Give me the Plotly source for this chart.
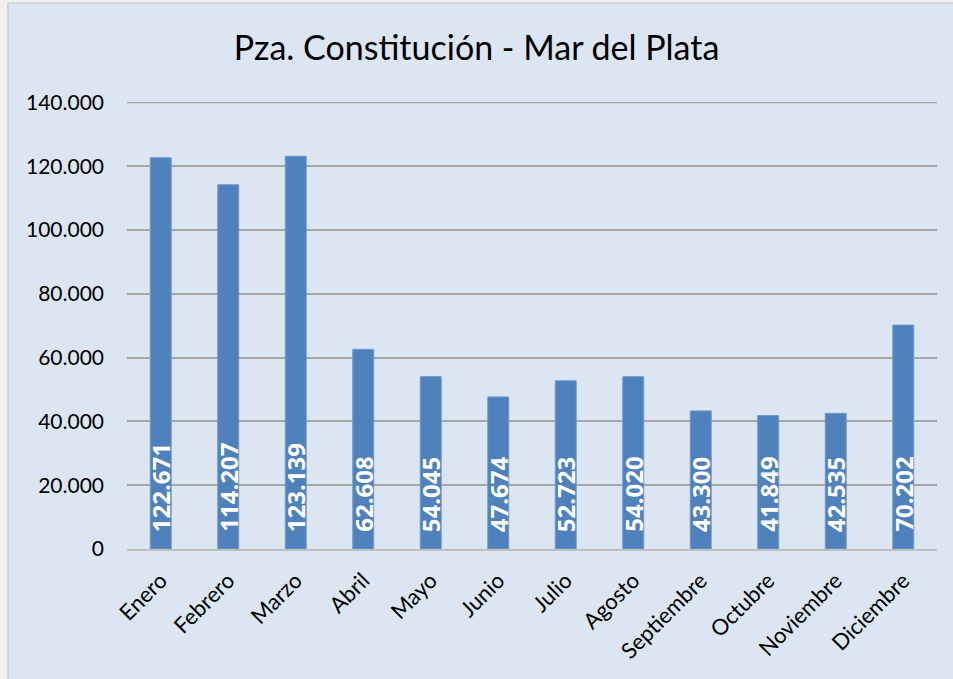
import plotly.graph_objects as go

months = ["Enero", "Febrero", "Marzo", "Abril", "Mayo", "Junio", "Julio",
          "Agosto", "Septiembre", "Octubre", "Noviembre", "Diciembre"]
values = [122671, 114207, 123139, 62608, 54045, 47674, 52723,
          54020, 43300, 41849, 42535, 70202]
y_ticks = [0, 20000, 40000, 60000, 80000, 100000, 120000, 140000]
title = "Pza. Constitución - Mar del Plata"

fig = go.Figure()
fig.add_trace(go.Bar(
    x=months, y=values, width=0.31,
    marker=dict(color="#4F81BD", line=dict(color="#6E97CC", width=1)),
    hoverinfo="x+y",
))

for m, v in zip(months, values):
    fig.add_annotation(
        x=m, y=0, xref="x", yref="y",
        text=f"{v:,}".replace(",", "."),
        textangle=-90, yanchor="bottom", xanchor="center",
        yshift=15, showarrow=False,
        font=dict(family="Open Sans", size=24, color="white", weight="bold"),
    )

# top gridline at the axis maximum
fig.add_shape(type="line", xref="paper", yref="y", x0=0, x1=1,
              y0=y_ticks[-1], y1=y_ticks[-1],
              line=dict(color="#A6A6A6", width=1.5), layer="below")

# outer light strips (outside the chart panel)
fig.add_shape(type="rect", xref="paper", yref="paper", x0=-0.2, x1=-0.1469,
              y0=-0.35, y1=1.3, fillcolor="#F0F0F0", line=dict(width=0), layer="below")
fig.add_shape(type="rect", xref="paper", yref="paper", x0=-0.2, x1=1.1,
              y0=1.2215, y1=1.3, fillcolor="#F0F0F0", line=dict(width=0), layer="below")
fig.add_shape(type="line", xref="paper", yref="paper", x0=-0.1469, x1=-0.1469,
              y0=-0.35, y1=1.2215, line=dict(color="#D0D0D0", width=1.5), layer="below")
fig.add_shape(type="line", xref="paper", yref="paper", x0=-0.1469, x1=1.1,
              y0=1.2215, y1=1.2215, line=dict(color="#D0D0D0", width=1.5), layer="below")

fig.update_layout(
    width=953, height=679,
    margin=dict(l=127, r=16, t=102, b=130),
    paper_bgcolor="#DCE6F2", plot_bgcolor="#DCE6F2",
    separators=",.",
    title=dict(text=title, x=0.5, xanchor="center", y=0.929, yanchor="middle",
               font=dict(family="Lato", size=34, color="black")),
    showlegend=False,
    font=dict(family="Lato", color="black"),
)
fig.update_yaxes(
    range=[0, 140150], tickvals=y_ticks, tickformat=",d",
    showgrid=True, gridcolor="#A6A6A6", gridwidth=1.5,
    zeroline=False, showline=False,
    ticks="", ticklabelstandoff=22,
    tickfont=dict(family="Lato", size=21, color="black"),
)
fig.update_xaxes(
    tickangle=-45, showgrid=False, showline=True, linecolor="#BFBFBF", linewidth=2,
    ticks="", ticklabelstandoff=8, tickfont=dict(family="Lato", size=22, color="black"),
)

fig.write_html("out.html", config={"displayModeBar": False},
               post_script="document.body.style.margin='0';")
